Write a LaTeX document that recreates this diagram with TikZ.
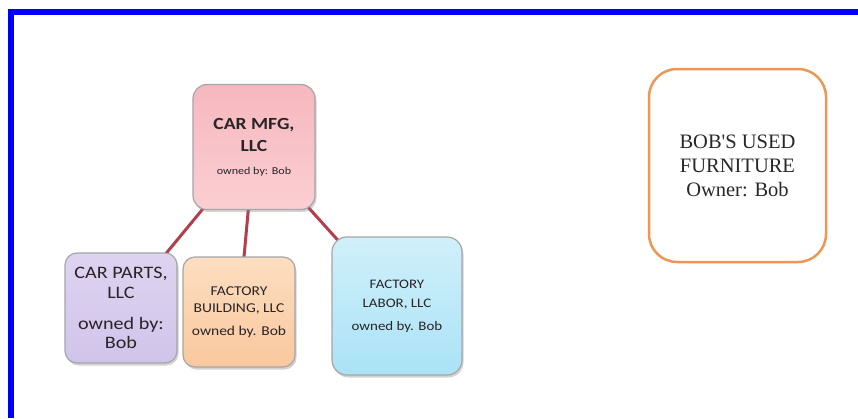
\documentclass[tikz,border=0pt]{standalone}
\usepackage{fontspec}
\usepackage{xcolor}
\usetikzlibrary{shadows}
\usetikzlibrary{backgrounds}
\newfontfamily\boxfont[FakeStretch=1.15]{Carlito}
\newfontfamily\bobfont{Liberation Serif}
\definecolor{framecol}{RGB}{0,0,250}
\definecolor{linkcol}{RGB}{178,64,76}
\definecolor{edgecol}{RGB}{165,165,170}
\definecolor{textcol}{RGB}{40,36,40}
\definecolor{bobcol}{RGB}{238,150,85}

\begin{document}
\begin{tikzpicture}[x=1pt,y=-1pt,
      llcbox/.style={draw=edgecol,line width=1.2pt,rounded corners=14pt,
        align=center,inner sep=2pt,text=textcol,
        drop shadow={shadow xshift=1.5pt,shadow yshift=-2.5pt,opacity=.35,fill=gray}},
      link/.style={draw=linkcol,line width=3pt}]

      \useasboundingbox (0,0) rectangle (858,418);
      \draw[framecol,line width=6pt] (11,418) -- (11,12) -- (858,12);

      \node[llcbox,minimum width=122pt,minimum height=125pt,
        font=\boxfont\fontsize{17}{22}\selectfont,
        top color={rgb,255:red,246;green,184;blue,190},
        bottom color={rgb,255:red,250;green,206;blue,210}] (mfg) at (254,147)
        {\bfseries CAR MFG,\\
         \bfseries LLC\\[1pt]
         \fontsize{10.5}{13}\selectfont owned by: Bob};

      \node[llcbox,minimum width=112pt,minimum height=110pt,rounded corners=12pt,
        font=\boxfont\fontsize{17.5}{20}\selectfont,
        top color={rgb,255:red,222;green,212;blue,240},
        bottom color={rgb,255:red,208;green,196;blue,234}] (parts) at (121,308)
        {CAR PARTS,\\
         LLC\\[11pt]
         owned by:\\[-1.5pt]
         Bob};

      \node[llcbox,minimum width=112pt,minimum height=110pt,rounded corners=12pt,
        font=\boxfont\fontsize{13.5}{17}\selectfont,
        top color={rgb,255:red,252;green,222;blue,192},
        bottom color={rgb,255:red,250;green,200;blue,158}] (bldg) at (239,312)
        {FACTORY\\
         BUILDING, LLC\\[6.5pt]
         owned by. Bob};

      \node[llcbox,minimum width=130pt,minimum height=138pt,rounded corners=15pt,
        font=\boxfont\fontsize{13}{19}\selectfont,
        top color={rgb,255:red,208;green,240;blue,250},
        bottom color={rgb,255:red,170;green,226;blue,246}] (labor) at (397,306)
        {FACTORY\\
         LABOR, LLC\\[4pt]
         owned by. Bob};

      \node[draw=bobcol,line width=2.5pt,rounded corners=28pt,fill=white,
        minimum width=177pt,minimum height=193pt,align=center,
        font=\bobfont\fontsize{20.5}{24}\selectfont,
        text={rgb,255:red,40;green,40;blue,40}] (bobs) at (737.5,165.5)
        {BOB'S USED\\
         FURNITURE\\
         Owner: Bob};

      \begin{scope}[on background layer]
        \draw[link] (mfg.center) -- (parts.center);
        \draw[link] (mfg.center) -- (bldg.center);
        \draw[link] (mfg.center) -- (labor.center);
      \end{scope}
    \end{tikzpicture}
\end{document}
